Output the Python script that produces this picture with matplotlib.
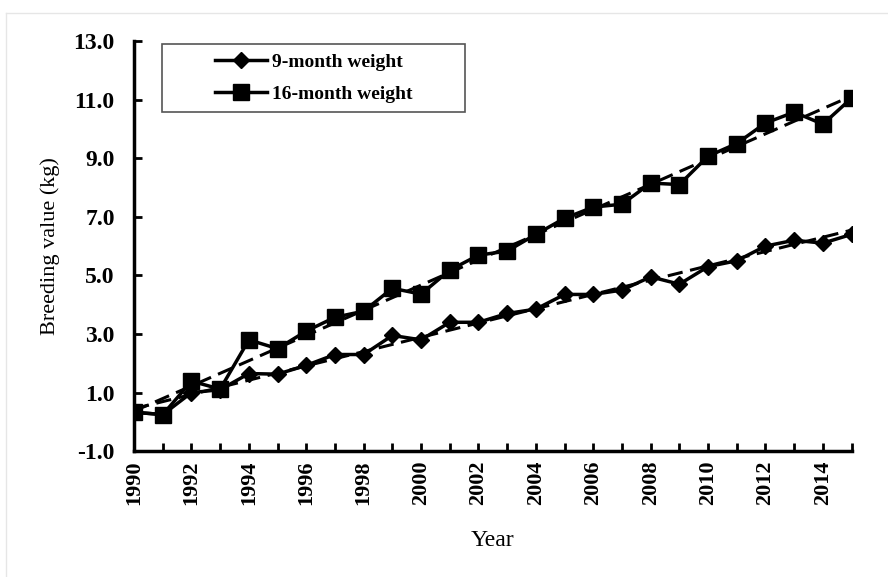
import numpy as np
import matplotlib
matplotlib.use("Agg")
import matplotlib.pyplot as plt
from matplotlib.lines import Line2D
from matplotlib.patches import Rectangle

years = np.arange(1990, 2016)
w9 = [0.33, 0.25, 1.0, 1.1, 1.65, 1.63, 1.93, 2.3, 2.3, 2.95, 2.8, 3.4, 3.4,
      3.7, 3.85, 4.35, 4.35, 4.5, 4.95, 4.7, 5.3, 5.5, 6.0, 6.2, 6.1, 6.4]
w16 = [0.33, 0.25, 1.39, 1.12, 2.8, 2.5, 3.1, 3.57, 3.78, 4.56, 4.36, 5.18, 5.69,
       5.83, 6.4, 6.95, 7.33, 7.43, 8.15, 8.1, 9.07, 9.5, 10.2, 10.57, 10.16, 11.05]
y_ticks = [-1.0, 1.0, 3.0, 5.0, 7.0, 9.0, 11.0, 13.0]
x_labels = list(range(1990, 2015, 2))

plt.rcParams['font.family'] = ['Liberation Serif', 'DejaVu Serif']

fig = plt.figure(figsize=(8.88, 5.77), dpi=100)
ax = fig.add_axes([0.151, 0.218, 0.808, 0.711])

ax.plot(years, w9, color='black', lw=2.5, marker='D', ms=8, label='9-month weight', zorder=3)
ax.plot(years, w16, color='black', lw=2.5, marker='s', ms=11, label='16-month weight', zorder=3)

# linear trends
for w in (w9, w16):
    k, b = np.polyfit(years, w, 1)
    ax.plot(years, k * years + b, color='black', lw=2.2, ls=(0, (5, 2.5)), zorder=2)

ax.set_xlim(1990, 2015)
ax.set_ylim(-1, 13)
ax.set_yticks(y_ticks)
ax.set_yticklabels([f"{v:.1f}" for v in y_ticks], fontsize=17, fontweight='bold')
ax.set_xticks(years)
ax.set_xticklabels([str(y) if y in x_labels else '' for y in years],
                   rotation=90, fontsize=16, fontweight='bold')
ax.tick_params(direction='in', length=6, width=2)
ax.tick_params(axis='y', pad=14)
ax.tick_params(axis='x', pad=7)

for s in ('top', 'right'):
    ax.spines[s].set_visible(False)
for s in ('left', 'bottom'):
    ax.spines[s].set_linewidth(2.5)

ax.set_xlabel('Year', fontsize=17, labelpad=18)
ax.set_ylabel('Breeding value (kg)', fontsize=16, labelpad=10)

# legend box
ax.add_patch(Rectangle((0.039, 0.827), 0.422, 0.166, transform=ax.transAxes,
                       fill=False, edgecolor='#555555', lw=1.2, zorder=4))
leg = ax.legend(loc='center', bbox_to_anchor=(0.25, 0.91), frameon=False,
                handlelength=2.7, handletextpad=0.25, labelspacing=0.75,
                prop={'size': 14, 'weight': 'bold'})

# faint page border
fig.add_artist(Line2D([6 / 888, 6 / 888], [0, 1 - 13 / 577], color='#e6e6e6', lw=1))
fig.add_artist(Line2D([6 / 888, 1], [1 - 13 / 577, 1 - 13 / 577], color='#e6e6e6', lw=1))

fig.savefig('out.png', dpi=100)
